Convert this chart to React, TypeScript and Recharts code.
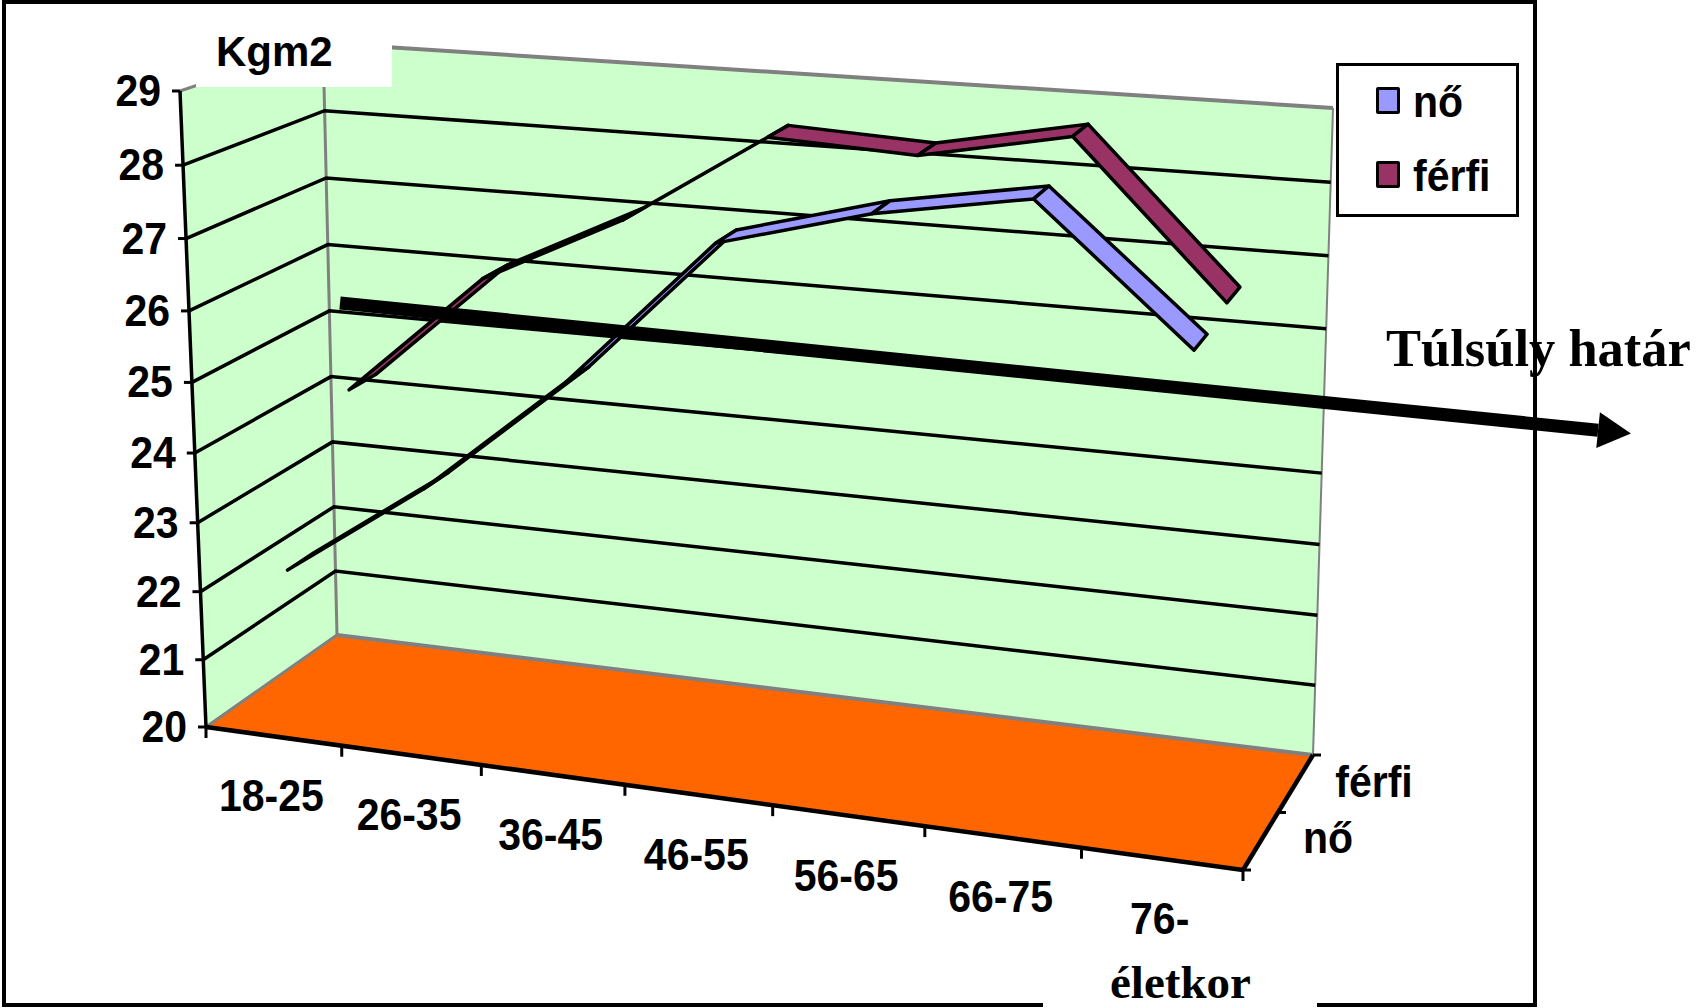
import React from 'react';
import { ComposedChart, Line, XAxis, YAxis, CartesianGrid, ReferenceArea, ReferenceLine, Legend } from 'recharts';

const categories = ['18-25', '26-35', '36-45', '46-55', '56-65', '66-75', '76-'];
const noValues = [22.25, 23.65, 25.35, 27.4, 27.95, 28.3, 26.55];
const ferfiValues = [24.3, 26.1, 27.1, 28.4, 28.3, 28.7, 26.65];
const valueTicks = [20, 21, 22, 23, 24, 25, 26, 27, 28, 29];
const seriesNames = ['nő', 'férfi'];
const seriesColors = ['#9999FF', '#993366'];
const overweightLimit = 25;

const data = categories.map((c, i) => ({ i, c, no: noValues[i], ferfi: ferfiValues[i] }));
const categoryTicks = categories.map((_, i) => i);

const W = 1699, H = 1008;
const PL = 100, PT = 100, PW = 1400, PH = 800;
const SANS = '"Liberation Sans", Arial, sans-serif';
const SERIF = '"Liberation Serif", "Times New Roman", serif';

type P = [number, number];
// projection box: front plane (w=0) and back plane (w=1): bottom-left, bottom-right, top-right, top-left
const FRONT: P[] = [[206, 727], [1243, 870], [1280, 171], [180, 91]];
const BACK: P[] = [[337, 635], [1313, 755], [1333, 108], [323, 43]];

function warp(u: number, v: number, w: number): P {
  const q = FRONT.map((f, i) => [f[0] + (BACK[i][0] - f[0]) * w, f[1] + (BACK[i][1] - f[1]) * w]);
  const [x0, y0] = q[0], [x1, y1] = q[1], [x2, y2] = q[2], [x3, y3] = q[3];
  const dx1 = x1 - x2, dx2 = x3 - x2, sx = x0 - x1 + x2 - x3;
  const dy1 = y1 - y2, dy2 = y3 - y2, sy = y0 - y1 + y2 - y3;
  const den = dx1 * dy2 - dx2 * dy1;
  const g = (sx * dy2 - dx2 * sy) / den;
  const h = (dx1 * sy - sx * dy1) / den;
  const a = x1 - x0 + g * x1, b = x3 - x0 + h * x3;
  const d = y1 - y0 + g * y1, e = y3 - y0 + h * y3;
  const t = g * u + h * v + 1;
  return [(a * u + b * v + x0) / t, (d * u + e * v + y0) / t];
}
const toU = (x: number) => (x - PL) / PW;
const toV = (y: number) => (PT + PH - y) / PH;
const poly = (pts: P[]) => pts.map((p) => p.join(',')).join(' ');

function T({ x, y, children, size = 41, anchor = 'middle', family = SANS, sy = 1.1 }: any) {
  return (
    <text transform={`translate(${x},${y}) scale(1,${sy})`} textAnchor={anchor} fontFamily={family} fontWeight={700} fontSize={size} fill="#000">
      {children}
    </text>
  );
}

function Backdrop() {
  const c = (u: number, v: number, w: number) => warp(u, v, w);
  const grey = '#808080';
  const seg = (a: P, b: P, col: string, sw: number) => <line x1={a[0]} y1={a[1]} x2={b[0]} y2={b[1]} stroke={col} strokeWidth={sw} />;
  return (
    <g>
      <polygon points={poly([c(0, 0, 0), c(0, 0, 1), c(0, 1, 1), c(0, 1, 0)])} fill="#CCFFCC" />
      <polygon points={poly([c(0, 0, 1), c(1, 0, 1), c(1, 1, 1), c(0, 1, 1)])} fill="#CCFFCC" />
      <polygon points={poly([c(0, 0, 0), c(1, 0, 0), c(1, 0, 1), c(0, 0, 1)])} fill="#FF6600" />
      {seg(c(0, 1, 0), c(0, 1, 1), grey, 3)}
      {seg(c(0, 1, 1), c(1, 1, 1), grey, 4)}
      {seg(c(0, 0, 1), c(0, 1, 1), grey, 3)}
      {seg(c(1, 0, 1), c(1, 1, 1), grey, 2)}
      {seg(c(0, 0, 0), c(0, 0, 1), grey, 3)}
      {seg(c(0, 0, 1), c(1, 0, 1), grey, 4)}
      {seg(c(0, 0, 0), c(0, 1, 0), '#000', 3.5)}
      {seg(c(0, 0, 0), c(1, 0, 0), '#000', 4.5)}
      {seg(c(1, 0, 0), c(1, 0, 1), '#000', 4.5)}
      {[0, 0.5, 1].map((w) => {
        const p = c(1, 0, w);
        return <line key={w} x1={p[0]} y1={p[1]} x2={p[0] + 8} y2={p[1]} stroke="#000" strokeWidth={3} />;
      })}
      <T x={1328} y={853}>{seriesNames[0]}</T>
      <T x={1374} y={797}>{seriesNames[1]}</T>
    </g>
  );
}

function gridLine(props: any) {
  const v = toV(props.y1);
  if (v < 0.01 || v > 0.99) return <g key={props.key} />;
  const a = warp(0, v, 0), b = warp(0, v, 1), d = warp(1, v, 1);
  return <polyline key={props.key} points={poly([a, b, d])} fill="none" stroke="#000" strokeWidth={3.5} />;
}

function XTick({ x, payload }: any) {
  const step = 1 / categories.length;
  const u = toU(x);
  const index = payload.value;
  const label = categories[index];
  const f = warp(u, 0, 0);
  const m = warp(u - step / 2, 0, 0);
  const e = warp(u + step / 2, 0, 0);
  return (
    <g>
      <line x1={m[0]} y1={m[1]} x2={m[0]} y2={m[1] + 11} stroke="#000" strokeWidth={3} />
      {index === categories.length - 1 && <line x1={e[0]} y1={e[1]} x2={e[0]} y2={e[1] + 11} stroke="#000" strokeWidth={3} />}
      <T x={f[0] - 2} y={f[1] + 75}>{label}</T>
    </g>
  );
}

function YTick({ y, payload }: any) {
  const p = warp(0, toV(y), 0);
  return (
    <g>
      <line x1={p[0] - 8} y1={p[1]} x2={p[0]} y2={p[1]} stroke="#000" strokeWidth={3} />
      <T x={p[0] - 19} y={p[1] + 15} anchor="end">{payload.value}</T>
    </g>
  );
}

function ribbonDot(depth: number, color: string) {
  const hw = 0.1;
  return (props: any) => {
    const { points, index, cx, cy } = props;
    const next = points && points[index + 1];
    if (!next || cx == null) return <g key={index} />;
    const u0 = toU(cx), v0 = toV(cy), u1 = toU(next.x), v1 = toV(next.y);
    const pts = [warp(u0, v0, depth - hw), warp(u1, v1, depth - hw), warp(u1, v1, depth + hw), warp(u0, v0, depth + hw)];
    return <polygon key={index} points={poly(pts)} fill={color} stroke="#000" strokeWidth={3.5} strokeLinejoin="round" />;
  };
}

const toVValue = (val: number) => (val - valueTicks[0]) / (valueTicks[valueTicks.length - 1] - valueTicks[0]);

function Arrow() {
  const v = toVValue(overweightLimit);
  const a = warp(0.012, v + 0.015, 1);
  const b = warp(1.245, v - 0.006, 1);
  const ang = Math.atan2(b[1] - a[1], b[0] - a[0]);
  const nx = -Math.sin(ang), ny = Math.cos(ang), tx = Math.cos(ang), ty = Math.sin(ang);
  const head: P[] = [[b[0] + nx * 18, b[1] + ny * 18], [b[0] + tx * 33, b[1] + ty * 33], [b[0] - nx * 18, b[1] - ny * 18]];
  return (
    <g>
      <line x1={a[0]} y1={a[1]} x2={b[0]} y2={b[1]} stroke="#000" strokeWidth={13} />
      <polygon points={poly(head)} fill="#000" />
    </g>
  );
}

function LegendBox() {
  return (
    <div style={{ position: 'relative', width: 183, height: 154, boxSizing: 'border-box', border: '3px solid #000', background: '#fff', fontFamily: SANS, fontWeight: 700, fontSize: 41 }}>
      {seriesNames.map((n, i) => (
        <React.Fragment key={n}>
          <div style={{ position: 'absolute', left: 37, top: 21 + i * 74, width: 24, height: 27, boxSizing: 'border-box', border: '3px solid #000', borderRadius: 2, background: seriesColors[i] }} />
          <div style={{ position: 'absolute', left: 74, top: 11 + i * 74, lineHeight: '50px', transform: 'scaleY(1.1)', whiteSpace: 'nowrap' }}>{n}</div>
        </React.Fragment>
      ))}
    </div>
  );
}

export default function App() {
  return (
    <div style={{ position: 'absolute', left: 0, top: 0, width: W, height: H, overflow: 'hidden', background: '#fff' }}>
      <div style={{ position: 'absolute', left: 2, top: 0, width: 1535, height: 1007, boxSizing: 'border-box', border: '4px solid #000' }} />
      <div style={{ position: 'absolute', left: 0, top: 0 }}>
        <ComposedChart width={W} height={H} data={data} margin={{ left: PL - 1, top: PT, right: W - PL - PW, bottom: H - PT - PH - 1 }} style={{ background: 'transparent' }}>
          <ReferenceArea y1={20} y2={29} shape={() => <Backdrop />} fill="none" stroke="none" ifOverflow="visible" {...({ zIndex: -200 } as any)} />
          <CartesianGrid vertical={false} horizontal={gridLine} />
          <XAxis dataKey="i" type="number" domain={[-0.5, categories.length - 0.5]} ticks={categoryTicks} height={1} axisLine={false} tickLine={false} interval={0} allowDataOverflow tick={(p: any) => <XTick {...p} />} />
          <YAxis domain={[20, 29]} ticks={valueTicks} width={1} axisLine={false} tickLine={false} interval={0} allowDataOverflow tick={(p: any) => <YTick {...p} />} />
          <Line dataKey="ferfi" name={seriesNames[1]} stroke="none" isAnimationActive={false} dot={ribbonDot(0.75, seriesColors[1])} activeDot={false} />
          <Line dataKey="no" name={seriesNames[0]} stroke="none" isAnimationActive={false} dot={ribbonDot(0.25, seriesColors[0])} activeDot={false} />
          <ReferenceLine y={overweightLimit} shape={() => <Arrow />} ifOverflow="visible" {...({ zIndex: 1500 } as any)} />
          <Legend layout="horizontal" align="center" verticalAlign="middle" content={() => <LegendBox />} wrapperStyle={{ position: 'absolute', left: 1336, top: 63, width: 183, height: 154, right: 'auto', bottom: 'auto' }} />
        </ComposedChart>
      </div>
      <div style={{ position: 'absolute', left: 196, top: 20, width: 196, height: 67, background: '#fff' }} />
      <div style={{ position: 'absolute', left: 216, top: 28, lineHeight: '48px', fontFamily: SANS, fontWeight: 700, fontSize: 42, whiteSpace: 'nowrap' }}>Kgm2</div>
      <div style={{ position: 'absolute', left: 1043, top: 965, width: 274, height: 43, background: '#fff' }} />
      <div style={{ position: 'absolute', left: 1110, top: 955, lineHeight: '54px', fontFamily: SERIF, fontWeight: 700, fontSize: 47, whiteSpace: 'nowrap' }}>életkor</div>
      <div style={{ position: 'absolute', left: 1386, top: 318, lineHeight: '60px', fontFamily: SERIF, fontWeight: 700, fontSize: 52.5, whiteSpace: 'nowrap' }}>Túlsúly határ</div>
    </div>
  );
}
